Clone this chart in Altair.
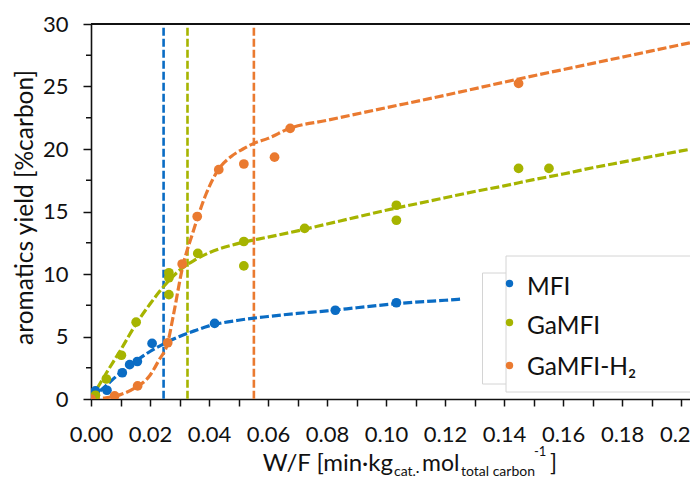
import altair as alt
import pandas as pd

# ---------------- data ----------------
series = ["MFI", "GaMFI", "GaMFI-H₂"]
colors = ["#0a6cc4", "#a6b400", "#ea7a30"]

mfi_x = [0.0015, 0.0054, 0.0106, 0.0131, 0.0157, 0.0207, 0.0419, 0.0828, 0.1035]
mfi_y = [0.65, 0.7, 2.1, 2.75, 3.0, 4.45, 6.05, 7.1, 7.7]

gamfi_x = [0.0015, 0.0052, 0.0103, 0.0153, 0.0264, 0.0264, 0.0264, 0.0362, 0.0518,
           0.0518, 0.0724, 0.1035, 0.1035, 0.1449, 0.1552, 0.207]
gamfi_y = [0.3, 1.6, 3.5, 6.15, 10.1, 9.7, 8.35, 11.65, 12.6,
           10.65, 13.65, 15.5, 14.3, 18.45, 18.45, 19.4]

h2_x = [0.0, 0.008, 0.0158, 0.026, 0.0309, 0.036, 0.0433, 0.0518, 0.0622, 0.0675, 0.1449, 0.207]
h2_y = [0.0, 0.25, 1.05, 4.5, 10.8, 14.6, 18.35, 18.8, 19.35, 21.65, 25.25, 28.0]

# dashed trend curves
mfi_fit_x = [0, 0.005, 0.01, 0.015, 0.02, 0.025, 0.03, 0.035, 0.04, 0.05, 0.06,
             0.07, 0.08, 0.09, 0.10, 0.11, 0.12, 0.126]
mfi_fit_y = [0, 1.05, 2.1, 3.0, 3.8, 4.45, 5.0, 5.45, 5.85, 6.3, 6.6,
             6.85, 7.05, 7.3, 7.55, 7.75, 7.9, 8.0]

gamfi_fit_x = [0, 0.005, 0.01, 0.015, 0.02, 0.025, 0.03, 0.035, 0.04, 0.05, 0.06,
               0.07, 0.08, 0.09, 0.10, 0.11, 0.12, 0.13, 0.14, 0.15, 0.16, 0.17,
               0.18, 0.19, 0.20, 0.206]
gamfi_fit_y = [0, 2.0, 3.9, 5.9, 7.6, 9.1, 10.3, 11.1, 11.7, 12.45, 12.95,
               13.45, 14.0, 14.55, 15.1, 15.6, 16.1, 16.6, 17.05, 17.55, 18.0, 18.5,
               18.95, 19.4, 19.85, 20.1]

h2_fit_x = [0, 0.005, 0.01, 0.015, 0.02, 0.023, 0.026, 0.028, 0.031, 0.0345, 0.039,
            0.0433, 0.0475, 0.0515, 0.0552, 0.06, 0.0673, 0.08, 0.10, 0.12, 0.1449,
            0.17, 0.19, 0.206]
h2_fit_y = [0, 0.1, 0.35, 0.9, 1.9, 3.1, 4.5, 6.8, 10.5, 13.3, 16.4,
            18.4, 19.4, 20.0, 20.45, 20.85, 21.65, 22.3, 23.3, 24.3, 25.6,
            26.85, 27.85, 28.65]

vline_x = [0.0246, 0.0327, 0.0552]

x_ticks = [round(i * 0.01, 2) for i in range(0, 21)]
y_ticks = [0, 5, 10, 15, 20, 25, 30]
y_minor = [2.5, 7.5, 12.5, 17.5, 22.5, 27.5]

# ---------------- tables ----------------
pts = pd.concat([
    pd.DataFrame({"s": series[0], "x": mfi_x, "y": mfi_y}),
    pd.DataFrame({"s": series[1], "x": gamfi_x, "y": gamfi_y}),
    pd.DataFrame({"s": series[2], "x": h2_x, "y": h2_y}),
])
fits = pd.concat([
    pd.DataFrame({"s": series[0], "x": mfi_fit_x, "y": mfi_fit_y}),
    pd.DataFrame({"s": series[1], "x": gamfi_fit_x, "y": gamfi_fit_y}),
    pd.DataFrame({"s": series[2], "x": h2_fit_x, "y": h2_fit_y}),
])
vl = pd.DataFrame({"s": series, "x": vline_x, "y": [29.7] * 3, "y2": [0] * 3})
minor = pd.DataFrame({"v": y_minor})
one = pd.DataFrame({"a": [0]})

W, H = 599, 375
FONT = "Lato"

xscale = alt.Scale(domain=[0, 0.203], nice=False, zero=False)
yscale = alt.Scale(domain=[0, 30], nice=False)
cscale = alt.Scale(domain=series, range=colors)

x_axis = alt.Axis(values=x_ticks, title=None, grid=False,
                  labelExpr="(round(datum.value*100) % 2 == 0) ? format(datum.value, '.2f') : ''",
                  labelFont=FONT, labelFontSize=22, labelColor="#111",
                  labelPadding=18, labelFlush=False, labelOverlap=False,
                  tickSize=7, tickColor="#111", tickWidth=1.5,
                  domainColor="#111", domainWidth=1.6)
y_axis = alt.Axis(values=y_ticks, title="aromatics yield [%carbon]", grid=False,
                  labelFont=FONT, labelFontSize=22, labelColor="#111",
                  labelPadding=15, labelFlush=False, labelOverlap=False,
                  tickSize=8, tickColor="#111", tickWidth=1.5,
                  domainColor="#111", domainWidth=1.6,
                  titleFont=FONT, titleFontSize=24.5, titleFontWeight="normal",
                  titleColor="#111", titleX=-59, titleY=183, titleAngle=270,
                  titleBaseline="alphabetic", titleAlign="center")


def X(f):
    return alt.X(f, type="quantitative", scale=xscale, axis=x_axis)


def Y(f):
    return alt.Y(f, type="quantitative", scale=yscale, axis=y_axis)


col = alt.Color("s:N", scale=cscale, legend=None)

vlines = alt.Chart(vl).mark_rule(strokeDash=[8, 3], strokeWidth=2.6).encode(
    x=X("x"), y=Y("y"), y2="y2", color=col)

curves = alt.Chart(fits).mark_line(strokeDash=[9, 3], strokeWidth=3.2,
                                   interpolate="monotone", clip=True).encode(
    x=X("x"), y=Y("y"), color=col, detail="s:N")

dots = alt.Chart(pts).mark_circle(size=95, opacity=1, clip=True).encode(
    x=X("x"), y=Y("y"), color=col)

minor_ticks = alt.Chart(minor).mark_rule(color="#111", strokeWidth=1.5).encode(
    y=Y("v"), x=alt.value(-5), x2=alt.value(0))

top_line = alt.Chart(one).mark_rule(color="#111", strokeWidth=1.8).encode(
    x=alt.value(0), x2=alt.value(W + 10), y=alt.value(0))

# legend (drawn like the Excel legend box)
box_a = alt.Chart(one).mark_rect(fill="white", stroke="#d4d4d4", strokeWidth=1).encode(
    x=alt.value(391.5), x2=alt.value(W + 20), y=alt.value(249), y2=alt.value(360))
box_b = alt.Chart(one).mark_rect(fill="white", stroke="#d4d4d4", strokeWidth=1).encode(
    x=alt.value(415), x2=alt.value(W + 20), y=alt.value(232), y2=alt.value(368))

legend_layers = []
leg_marker_y = [259.5, 298.5, 341.5]
leg_text_y = [271, 309.5, 351]
for name, c, my, ty in zip(series, colors, leg_marker_y, leg_text_y):
    legend_layers.append(alt.Chart(one).mark_circle(size=55, opacity=1, color=c).encode(
        x=alt.value(418.5), y=alt.value(my)))
    legend_layers.append(alt.Chart(one).mark_text(
        text=name, font=FONT, fontSize=24.5, color="#111", align="left",
        baseline="alphabetic").encode(x=alt.value(436), y=alt.value(ty)))


# x-axis title with sub/superscripts
def piece(txt, x, y, size, align="left"):
    return alt.Chart(one).mark_text(text=txt, font=FONT, fontSize=size, color="#111",
                                    align=align, baseline="alphabetic").encode(
        x=alt.value(x), y=alt.value(y))


title_layers = [
    piece("W/F [min·kg", 302, 447, 24, align="right"),
    piece("cat.·", 303, 452, 14),
    piece("mol", 331, 447, 23),
    piece("total carbon", 370, 452, 14),
    piece("-1", 443, 432, 13),
    piece("]", 459, 447, 23),
]

chart = alt.layer(
    vlines, curves, dots, minor_ticks, top_line, box_a, box_b,
    *legend_layers, *title_layers
).properties(
    width=W, height=H,
    autosize=alt.AutoSizeParams(type="none"),
    padding={"left": 83, "top": 16, "right": 0, "bottom": 81},
    background="white",
).configure_view(stroke=None)

chart.save("out.html", embed_options={"renderer": "svg", "actions": False})
